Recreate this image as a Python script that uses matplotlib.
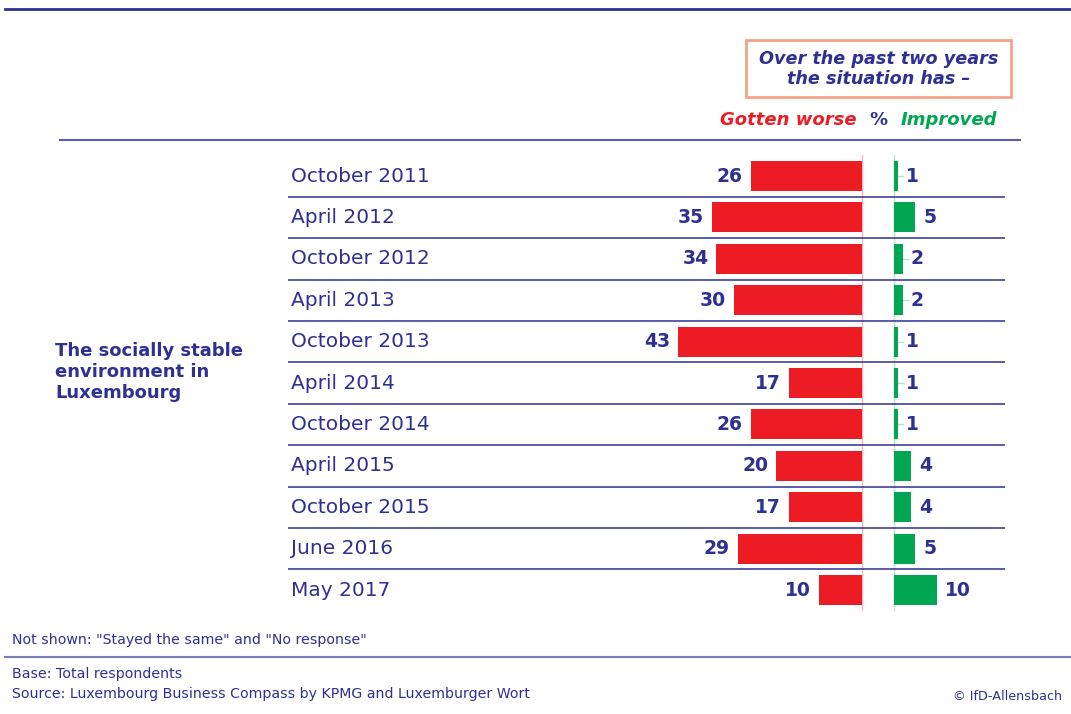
import matplotlib
matplotlib.use("Agg")
import matplotlib.pyplot as plt
from matplotlib.patches import Rectangle

# Survey waves and shares (%)
waves = ["October 2011", "April 2012", "October 2012", "April 2013", "October 2013",
         "April 2014", "October 2014", "April 2015", "October 2015", "June 2016", "May 2017"]
worse = [26, 35, 34, 30, 43, 17, 26, 20, 17, 29, 10]
improved = [1, 5, 2, 2, 1, 1, 1, 4, 4, 5, 10]

topic = "The socially stable\nenvironment in\nLuxembourg"
box_text = "Over the past two years\nthe situation has \u2013"
note = "Not shown: \"Stayed the same\" and \"No response\""
base = "Base: Total respondents"
source = "Source: Luxembourg Business Compass by KPMG and Luxemburger Wort"
credit = "\u00a9 IfD-Allensbach"

NAVY = "#2E3192"
RED = "#ED1C24"
GREEN = "#00A651"
SALMON = "#F4A486"

W, H = 1071, 714
fig = plt.figure(figsize=(W / 100, H / 100), dpi=100)
plt.rcParams["font.family"] = ["DejaVu Sans"]

# Background axes in pixel units for frame lines and annotations
bg = fig.add_axes([0, 0, 1, 1])
bg.set_xlim(0, W)
bg.set_ylim(H, 0)
bg.axis("off")

bg.plot([5, W], [9, 9], color=NAVY, lw=2)
bg.plot([60, 1020], [140, 140], color="#5A5EA8", lw=1.5)
bg.plot([5, W], [657, 657], color="#7A7DB8", lw=1.5)

bg.add_patch(Rectangle((746, 40), 265, 57, fill=False, edgecolor=SALMON, lw=2))
bg.text(879, 69, box_text, ha="center", va="center", color=NAVY, fontsize=12.7,
        fontweight="bold", fontstyle="italic", linespacing=1.2)

bg.text(857, 120, "Gotten worse", ha="right", va="center", color=RED,
        fontsize=13, fontweight="bold", fontstyle="italic")
bg.text(878, 120, "%", ha="center", va="center", color=NAVY,
        fontsize=13, fontweight="bold")
bg.text(901, 120, "Improved", ha="left", va="center", color=GREEN,
        fontsize=13, fontweight="bold", fontstyle="italic")

bg.text(55, 372, topic, ha="left", va="center", color=NAVY, fontsize=13,
        fontweight="bold", linespacing=1.25)

bg.text(12, 640, note, ha="left", va="center", color=NAVY, fontsize=10.2)
bg.text(12, 674, base, ha="left", va="center", color=NAVY, fontsize=10.2)
bg.text(12, 694, source, ha="left", va="center", color=NAVY, fontsize=10.2)
bg.text(1062, 697, credit, ha="right", va="center", color=NAVY, fontsize=9.2)

# Bar axes: red bars grow left from 0, green bars grow right from GAP
SCALE = 4.28          # pixels per percentage point
ZERO_PX = 862
GAP = 32 / SCALE
ax_left, ax_right = 288, 1005
ax_top, ax_bot = 155.3, 610.7
ax = fig.add_axes([ax_left / W, 1 - ax_bot / H, (ax_right - ax_left) / W, (ax_bot - ax_top) / H])
ax.set_xlim((ax_left - ZERO_PX) / SCALE, (ax_right - ZERO_PX) / SCALE)
n = len(waves)
ax.set_ylim(n - 0.5, -0.5)
ax.axis("off")

ys = list(range(n))
ax.barh(ys, [-v for v in worse], left=0, height=0.72, color=RED, zorder=2)
ax.barh(ys, improved, left=GAP, height=0.72, color=GREEN, zorder=2)

ax.axvline(0, color="#F7B3B5", lw=1, zorder=1)
ax.axvline(GAP, color="#B5E3C8", lw=1, zorder=1)

for i in range(n - 1):
    ax.axhline(i + 0.5, xmin=0, xmax=1, color=NAVY, lw=1.3, alpha=0.85)

pad = 8 / SCALE
lead = 5 / SCALE
for i, (label, w, g) in enumerate(zip(waves, worse, improved)):
    ax.text(3 / (ax_right - ax_left), i, label, transform=ax.get_yaxis_transform(),
            ha="left", va="center", color=NAVY, fontsize=14.5)
    ax.text(-w - pad, i, str(w), ha="right", va="center", color=NAVY,
            fontsize=13.5, fontweight="bold")
    end = GAP + g
    if g <= 2:
        ax.plot([end, end + lead], [i, i], color="#B5E3C8", lw=1, zorder=1)
    ax.text(end + pad, i, str(g), ha="left", va="center", color=NAVY,
            fontsize=13.5, fontweight="bold")

fig.savefig("out.png", dpi=100)
